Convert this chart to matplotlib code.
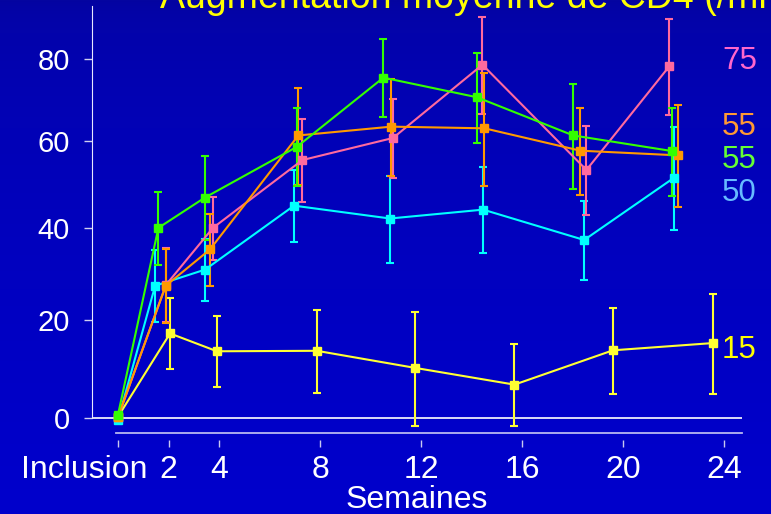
import numpy as np
import matplotlib.pyplot as plt
import matplotlib.transforms as mtransforms
from matplotlib.colors import LinearSegmentedColormap

plt.rcParams['font.family'] = ['Liberation Sans', 'DejaVu Sans']

# x axis: visits (weeks since inclusion)
tick_weeks = [0, 2, 4, 8, 12, 16, 20, 24]
tick_labels = ['Inclusion', '2', '4', '8', '12', '16', '20', '24']

# mean CD4 gain (/mm3) and SD, per group; x = mean visit time in weeks
x_yellow = [0, 2.06, 3.92, 7.87, 11.76, 15.70, 19.60, 23.56]
y_yellow = [0.3, 17.2, 13.5, 13.6, 10.1, 6.7, 13.7, 15.2]
e_yellow = [0, 7.4, 7.3, 8.5, 11.7, 8.3, 8.9, 10.4]

x_cyan = [0, 1.47, 3.45, 6.97, 10.77, 14.46, 18.46, 22.02]
y_cyan = [-0.4, 27.3, 30.8, 45.0, 42.1, 44.1, 37.3, 51.4]
e_cyan = [0, 7.7, 6.8, 8.1, 9.8, 9.7, 8.8, 11.8]

x_pink = [0, 1.90, 3.76, 7.30, 10.89, 14.43, 18.55, 21.83]
y_pink = [0.2, 27.5, 40.0, 55.5, 60.7, 78.5, 53.2, 78.1]
e_pink = [0, 8.0, 7.0, 9.7, 9.4, 12.0, 10.4, 12.0]

x_orange = [0, 1.89, 3.64, 7.14, 10.82, 14.51, 18.31, 22.19]
y_orange = [0.3, 27.3, 35.2, 61.3, 63.4, 63.0, 57.7, 56.6]
e_orange = [0, 8.0, 8.0, 11.5, 11.5, 13.5, 10.3, 12.0]

x_green = [0, 1.60, 3.43, 7.08, 10.51, 14.21, 18.03, 21.95]
y_green = [0.7, 40.0, 46.8, 58.6, 75.3, 70.5, 61.3, 57.6]
e_green = [0, 8.2, 9.6, 9.2, 9.7, 11.0, 12.5, 10.4]

# labels at the right end of the curves
end_labels = ['75', '55', '55', '50', '15']

series = [
    (x_yellow, y_yellow, e_yellow, '#FFFF33'),
    (x_cyan, y_cyan, e_cyan, '#00FFFF'),
    (x_pink, y_pink, e_pink, '#FF6A9E'),
    (x_orange, y_orange, e_orange, '#FF9900'),
    (x_green, y_green, e_green, '#33FF00'),
]

fig = plt.figure(figsize=(7.71, 5.14), dpi=100)

# blue slide background, darker at the top
bg = fig.add_axes([0, 0, 1, 1], zorder=-10)
grad = np.linspace(0, 1, 256) ** 0.5
bg.imshow(grad[:, None], aspect='auto', extent=[0, 1, 0, 1],
          cmap=LinearSegmentedColormap.from_list('slide', ['#0404A0', '#0000CC']))
bg.axis('off')

ax = fig.add_axes([92 / 771, 1 - 433 / 514, 650 / 771, 427 / 514])
ax.set_facecolor('none')


def fwd(v):
    return np.log(np.asarray(v) + 300.0)


def inv(v):
    return np.exp(v) - 300.0


ax.set_yscale('function', functions=(fwd, inv))
ax.set_xlim(-1.03, 24.71)
ax.set_ylim(-2.9, 93.4)

for xs, ys, es, col in series:
    ax.errorbar(xs, ys, yerr=es, color=col, lw=1.5, marker='s', ms=5.5,
                elinewidth=1.5, capsize=3, capthick=1.5, clip_on=False)

ax.axhline(0, color='white', lw=1.2, zorder=1)

for side in ['top', 'right']:
    ax.spines[side].set_visible(False)
ax.spines['left'].set_color('#E8E8FF')
ax.spines['left'].set_bounds(0, 93.4)
ax.spines['bottom'].set_color('#B8B8F0')
ax.spines['bottom'].set_linewidth(1.3)
ax.spines['bottom'].set_bounds(-0.08, 24.71)

ax.set_yticks([0, 20, 40, 60, 80])
ax.yaxis.set_minor_locator(plt.NullLocator())
ax.tick_params(axis='y', length=6, width=1, color='#D0D0F0',
               labelcolor='white', labelsize=21, pad=10)
ax.tick_params(axis='x', bottom=False, labelbottom=False)

# tick marks sit a little below the axis line
secax = ax.secondary_xaxis(-7 / 427)
secax.set_xticks(tick_weeks, tick_labels)
secax.spines['bottom'].set_visible(False)
secax.tick_params(length=5, width=1, color='#C8C8F0', labelcolor='white',
                  labelsize=23, pad=6)
secax.set_xlabel('Semaines', color='white', fontsize=23, labelpad=0)
first = secax.get_xticklabels()[0]
first.set_transform(first.get_transform() +
                    mtransforms.ScaledTranslation(-0.335, 0, fig.dpi_scale_trans))

label_colors = ['#FF66CC', '#FF9933', '#66FF33', '#66BBFF', '#FFFF00']
label_base = [69, 135, 167.5, 201, 358]
for txt, col, yb in zip(end_labels, label_colors, label_base):
    fig.text(722 / 771, 1 - yb / 514, txt, color=col, fontsize=22.5, va='baseline')

# slide title runs off the top edge
fig.text(160 / 771, 1 - 8 / 514, 'Augmentation moyenne de CD4 (/mm³)',
         color='#FFFF00', fontsize=27, va='baseline')

fig.savefig('out.png', dpi=100)
